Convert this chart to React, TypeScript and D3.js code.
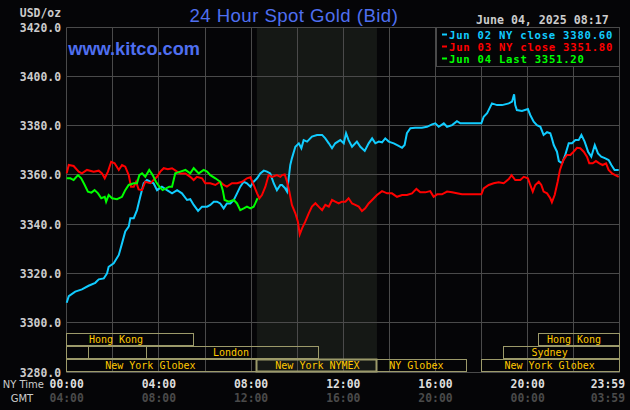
import React from 'react';
import * as d3 from 'd3';

// ---------- data ----------
const Y_TICKS = [3280, 3300, 3320, 3340, 3360, 3380, 3400, 3420];
const X_GRID_HOURS = [0, 2, 4, 6, 8, 10, 12, 14, 16, 18, 20, 22, 24];
const X_LABEL_HOURS = [0, 4, 8, 12, 16, 20, 23.98];
const NY_LABELS = ['00:00', '04:00', '08:00', '12:00', '16:00', '20:00', '23:59'];
const GMT_LABELS = ['04:00', '08:00', '12:00', '16:00', '20:00', '00:00', '03:59'];

const LEGEND_LABELS = ['Jun 02 NY close 3380.60', 'Jun 03 NY close 3351.80', 'Jun 04 Last 3351.20'];

// [hour (NY time), price]
const jun02: [number, number][] = [
  [0, 3308.1], [0.09, 3310.8], [0.37, 3312.6], [0.66, 3313.5], [0.95, 3315.0], [1.24, 3316.2], [1.39, 3317.6],
  [1.61, 3318.0], [1.75, 3320.0], [1.82, 3322.7], [2.04, 3324.1], [2.26, 3327.5], [2.4, 3332.2], [2.54, 3337.0],
  [2.69, 3339.0], [2.76, 3342.4], [2.91, 3342.4], [3.05, 3345.7], [3.19, 3351.1], [3.34, 3356.6], [3.48, 3357.9],
  [3.63, 3357.2], [3.77, 3356.6], [3.92, 3353.8], [4.13, 3355.2], [4.35, 3353.8], [4.57, 3352.5], [4.79, 3353.8],
  [5.0, 3352.5], [5.22, 3349.8], [5.36, 3350.1], [5.51, 3347.8], [5.7, 3345.4], [5.87, 3347.1], [6.09, 3347.1],
  [6.23, 3347.8], [6.38, 3349.1], [6.52, 3349.1], [6.66, 3348.4], [6.81, 3346.4], [6.95, 3348.4], [7.1, 3348.4],
  [7.25, 3349.8], [7.39, 3352.5], [7.53, 3355.2], [7.68, 3357.2], [7.82, 3356.6], [7.97, 3355.2], [8.11, 3357.2],
  [8.26, 3358.6], [8.4, 3360.6], [8.55, 3361.7], [8.69, 3361.3], [8.83, 3360.6], [8.98, 3356.6], [9.12, 3353.8],
  [9.27, 3355.9], [9.34, 3355.9], [9.48, 3354.5], [9.56, 3353.2], [9.63, 3358.6], [9.7, 3364.0], [9.77, 3366.7],
  [9.92, 3371.4], [10.07, 3372.8], [10.18, 3370.8], [10.28, 3374.1], [10.43, 3373.5], [10.64, 3375.5],
  [10.86, 3376.2], [11.08, 3376.2], [11.22, 3374.8], [11.37, 3372.8], [11.51, 3370.8], [11.65, 3372.8],
  [11.87, 3374.1], [12.02, 3372.8], [12.12, 3376.9], [12.23, 3374.1], [12.38, 3371.4], [12.59, 3373.5],
  [12.74, 3371.4], [12.93, 3369.7], [13.1, 3372.8], [13.25, 3374.8], [13.39, 3372.8], [13.54, 3373.5],
  [13.68, 3373.2], [13.82, 3374.8], [13.97, 3373.5], [14.19, 3372.8], [14.4, 3371.8], [14.55, 3371.0],
  [14.66, 3372.1], [14.76, 3376.9], [14.91, 3378.9], [15.12, 3379.1], [15.41, 3379.1], [15.63, 3379.5],
  [15.85, 3380.5], [15.99, 3380.9], [16.14, 3379.5], [16.36, 3380.9], [16.5, 3379.5], [16.72, 3380.2],
  [16.93, 3381.8], [17.08, 3380.9], [17.99, 3380.9], [18.09, 3383.6], [18.24, 3385.0], [18.45, 3389.0],
  [18.67, 3388.3], [18.89, 3388.3], [19.18, 3389.0], [19.32, 3389.7], [19.41, 3392.7], [19.46, 3388.3],
  [19.53, 3386.3], [19.75, 3385.9], [20.01, 3386.7], [20.11, 3384.3], [20.26, 3381.6], [20.4, 3380.2],
  [20.55, 3379.5], [20.69, 3376.2], [20.84, 3377.3], [20.98, 3376.9], [21.05, 3374.8], [21.13, 3372.1],
  [21.27, 3369.4], [21.35, 3365.6], [21.49, 3364.7], [21.63, 3368.1], [21.78, 3372.8], [21.92, 3372.8],
  [22.07, 3374.1], [22.21, 3374.1], [22.33, 3376.2], [22.47, 3373.5], [22.62, 3369.4], [22.76, 3367.4],
  [22.91, 3372.1], [23.05, 3368.7], [23.19, 3367.4], [23.37, 3366.7], [23.51, 3366.0], [23.63, 3364.0],
  [23.77, 3362.0], [23.95, 3362.0],
];

const jun03: [number, number][] = [
  [0, 3360.6], [0.09, 3364.0], [0.3, 3363.6], [0.52, 3361.3], [0.66, 3360.6], [0.88, 3362.0], [1.17, 3361.3],
  [1.39, 3361.7], [1.53, 3360.6], [1.65, 3358.6], [1.79, 3361.3], [1.93, 3365.3], [2.08, 3364.7], [2.26, 3362.0],
  [2.4, 3364.0], [2.54, 3363.3], [2.69, 3359.9], [2.79, 3355.2], [2.91, 3355.2], [3.01, 3357.2], [3.12, 3354.1],
  [3.27, 3353.8], [3.41, 3357.2], [3.63, 3356.6], [3.77, 3357.9], [3.92, 3359.2], [4.06, 3361.3], [4.21, 3362.7],
  [4.39, 3362.3], [4.57, 3362.7], [4.79, 3361.3], [4.93, 3360.6], [5.15, 3360.6], [5.36, 3359.2], [5.51, 3357.9],
  [5.65, 3359.2], [5.87, 3358.6], [6.01, 3356.6], [6.23, 3356.6], [6.45, 3355.9], [6.66, 3357.2], [6.81, 3355.9],
  [6.95, 3355.2], [7.17, 3356.6], [7.39, 3356.6], [7.61, 3357.2], [7.82, 3358.6], [7.97, 3359.0], [8.11, 3355.9],
  [8.26, 3352.5], [8.36, 3350.5], [8.47, 3351.8], [8.62, 3355.2], [8.76, 3359.9], [8.91, 3359.2], [9.12, 3359.9],
  [9.27, 3359.2], [9.34, 3359.9], [9.46, 3360.2], [9.56, 3357.2], [9.66, 3353.2], [9.77, 3347.8], [9.92, 3344.4],
  [10.03, 3341.0], [10.11, 3335.9], [10.21, 3338.3], [10.35, 3341.0], [10.5, 3344.4], [10.64, 3347.1],
  [10.79, 3348.5], [10.93, 3347.1], [11.08, 3345.7], [11.22, 3347.8], [11.37, 3347.1], [11.51, 3349.8],
  [11.65, 3349.1], [11.8, 3348.4], [11.94, 3349.1], [12.09, 3349.1], [12.23, 3350.5], [12.38, 3348.4],
  [12.52, 3347.8], [12.67, 3347.1], [12.81, 3345.3], [12.95, 3346.4], [13.1, 3348.4], [13.25, 3349.8],
  [13.46, 3351.8], [13.68, 3353.4], [13.9, 3352.5], [14.11, 3352.5], [14.33, 3351.1], [14.55, 3351.8],
  [14.76, 3351.8], [14.98, 3352.5], [15.17, 3354.3], [15.34, 3352.9], [15.56, 3352.9], [15.77, 3353.4],
  [15.92, 3351.1], [16.07, 3352.1], [16.28, 3352.1], [16.5, 3353.2], [16.72, 3352.9], [16.93, 3352.5],
  [17.15, 3352.1], [17.99, 3352.1], [18.09, 3354.5], [18.31, 3355.9], [18.52, 3356.6], [18.74, 3357.0],
  [18.96, 3356.6], [19.18, 3358.3], [19.3, 3359.9], [19.46, 3357.9], [19.68, 3357.9], [19.83, 3359.2],
  [20.01, 3358.6], [20.11, 3355.9], [20.22, 3353.2], [20.33, 3355.9], [20.48, 3357.2], [20.59, 3355.9],
  [20.69, 3353.2], [20.84, 3352.5], [20.98, 3350.5], [21.05, 3348.9], [21.17, 3351.8], [21.3, 3357.2],
  [21.4, 3362.0], [21.55, 3366.0], [21.7, 3368.1], [21.85, 3368.1], [21.99, 3369.4], [22.14, 3371.0],
  [22.28, 3370.8], [22.43, 3369.4], [22.57, 3367.4], [22.67, 3364.7], [22.82, 3364.7], [22.96, 3365.6],
  [23.11, 3364.7], [23.25, 3364.0], [23.4, 3364.7], [23.51, 3362.0], [23.66, 3360.6], [23.8, 3359.9],
  [23.95, 3359.2],
];

const jun04: [number, number][] = [
  [0, 3358.6], [0.16, 3358.6], [0.3, 3357.9], [0.49, 3359.9], [0.63, 3358.6], [0.78, 3355.9], [0.92, 3353.2],
  [1.07, 3352.8], [1.21, 3353.8], [1.36, 3352.5], [1.5, 3350.5], [1.65, 3351.1], [1.71, 3349.1], [1.82, 3351.8],
  [1.97, 3350.5], [2.18, 3350.1], [2.4, 3351.1], [2.54, 3353.8], [2.69, 3355.9], [2.91, 3356.6], [3.05, 3356.6],
  [3.15, 3359.9], [3.27, 3360.6], [3.41, 3359.2], [3.58, 3362.0], [3.73, 3359.9], [3.87, 3357.2], [4.02, 3355.2],
  [4.16, 3353.8], [4.31, 3354.5], [4.45, 3355.2], [4.57, 3355.2], [4.71, 3360.6], [4.93, 3361.3], [5.15, 3362.0],
  [5.36, 3360.6], [5.51, 3362.7], [5.73, 3360.6], [5.94, 3362.0], [6.09, 3361.3], [6.23, 3359.9], [6.45, 3358.6],
  [6.66, 3357.2], [6.77, 3353.8], [6.85, 3349.8], [7.03, 3349.1], [7.25, 3349.8], [7.39, 3348.4], [7.53, 3345.7],
  [7.68, 3346.4], [7.82, 3347.1], [7.97, 3346.4], [8.11, 3347.1], [8.18, 3348.4], [8.28, 3350.5],
];

const SERIES = [jun02, jun03, jun04];
const SERIES_COLORS = ['#11ccff', '#ff0000', '#00ff00'];

// trading sessions: row 0 = top
const SESSIONS = [
  { name: 'Hong Kong', row: 0, start: 0, end: 5.5, labelAt: 2.14 },
  { name: '', row: 1, start: 0, end: 0.94 },
  { name: '', row: 1, start: 0.94, end: 3.46 },
  { name: 'London', row: 1, start: 3.46, end: 10.92, labelAt: 7.13 },
  { name: 'New York Globex', row: 2, start: 0, end: 8.25, labelAt: 3.63 },
  { name: 'New York NYMEX', row: 2, start: 8.25, end: 13.46, labelAt: 10.88, strong: true },
  { name: 'NY Globex', row: 2, start: 13.46, end: 17.33, labelAt: 15.17 },
  { name: 'New York Globex', row: 2, start: 17.99, end: 24, labelAt: 20.95 },
  { name: 'Sydney', row: 1, start: 18.94, end: 24, labelAt: 20.95 },
  { name: 'Hong Kong', row: 0, start: 20.46, end: 24, labelAt: 22.01 },
];
const SHADE_START = 8.25;
const SHADE_END = 13.46;

// ---------- chart ----------
const W = 630;
const H = 410;
const BG = '#050507';
const GRID = '#4a4a4a';
const MONO = '"DejaVu Sans Mono", monospace';

export default function App() {
  const x = d3.scaleLinear().domain([0, 24]).range([66.7, 619.9]);
  const y = d3.scaleLinear().domain([3280, 3420]).range([372, 27]);
  const snap = (v: number) => Math.floor(v) + 0.5;
  const line = d3
    .line<[number, number]>()
    .x((d) => x(d[0]))
    .y((d) => y(d[1]));

  const left = snap(x(0));
  const right = snap(x(24));
  const top = snap(y(3420));
  const bottom = snap(y(3280));

  return (
    <svg
      width={W}
      height={H}
      style={{ position: 'absolute', left: 0, top: 0, display: 'block' }}
    >
      <rect x={0} y={0} width={W} height={H} fill={BG} />
      {/* shaded NYMEX period */}
      <rect
        x={x(SHADE_START)}
        y={top}
        width={x(SHADE_END) - x(SHADE_START)}
        height={bottom - top}
        fill="#151815"
      />
      {/* grid */}
      {X_GRID_HOURS.map((h) => (
        <line key={'gx' + h} x1={snap(x(h))} x2={snap(x(h))} y1={top} y2={bottom} stroke={GRID} strokeWidth={1} />
      ))}
      {Y_TICKS.map((v) => (
        <line key={'gy' + v} x1={left} x2={right} y1={snap(y(v))} y2={snap(y(v))} stroke={GRID} strokeWidth={1} />
      ))}

      {/* y labels */}
      {Y_TICKS.map((v) => (
        <text
          key={'yl' + v}
          x={61}
          y={y(v) + 4.5}
          textAnchor="end"
          fontFamily={MONO}
          fontWeight="bold"
          fontSize={11.4}
          fill="#cccccc"
        >
          {v.toFixed(1)}
        </text>
      ))}
      <text x={61} y={17.3} textAnchor="end" fontFamily={MONO} fontWeight="bold" fontSize={11.4} fill="#cccccc">
        USD/oz
      </text>

      {/* sessions */}
      {SESSIONS.map((s, i) => {
        const rt = 333.5 + s.row * 13;
        const x0 = snap(x(s.start));
        const x1 = snap(x(s.end));
        return (
          <g key={'s' + i}>
            <rect
              x={x0}
              y={rt}
              width={x1 - x0}
              height={12}
              fill="none"
              stroke="#9c9a6a"
              strokeWidth={s.strong ? 2 : 1}
            />
            {s.name && (
              <text
                x={x(s.labelAt as number)}
                y={rt + 9.3}
                textAnchor="middle"
                fontFamily={MONO}
                fontSize={10}
                fill="#ffc800"
              >
                {s.name}
              </text>
            )}
          </g>
        );
      })}

      {/* series */}
      {SERIES.map((s, i) => (
        <path
          key={'p' + i}
          d={line(s) || ''}
          fill="none"
          stroke={SERIES_COLORS[i]}
          strokeWidth={2}
          strokeLinejoin="miter"
        />
      ))}

      {/* legend */}
      <rect x={436.5} y={top} width={right - 436.5} height={66.5 - top} fill={BG} stroke={GRID} strokeWidth={1} />
      {LEGEND_LABELS.map((t, i) => (
        <g key={'lg' + i}>
          <rect x={442} y={34.5 + i * 12 - 1} width={5} height={2} fill={SERIES_COLORS[i]} />
          <text
            x={449}
            y={38.5 + i * 12}
            fontFamily={MONO}
            fontWeight="bold"
            fontSize={10.6}
            textLength={t.length * 7.1}
            lengthAdjust="spacing"
            fill={SERIES_COLORS[i]}
          >
            {t}
          </text>
        </g>
      ))}

      {/* title etc */}
      <text
        x={189.5}
        y={21.8}
        fontFamily="'Liberation Sans', Arial, sans-serif"
        fontSize={18.6}
        letterSpacing={0.45}
        fill="#4f6ff0"
      >
        24 Hour Spot Gold (Bid)
      </text>
      <text
        x={68.3}
        y={55}
        fontFamily="'Liberation Sans', Arial, sans-serif"
        fontWeight="bold"
        fontSize={18.2}
        fill="#4f6ff0"
      >
        www.kitco.com
      </text>
      <text x={476} y={24.2} fontFamily={MONO} fontWeight="bold" fontSize={11.6} fill="#cccccc">
        June 04, 2025 08:17
      </text>

      {/* x labels */}
      <text x={2.7} y={387.5} fontFamily="'DejaVu Sans', sans-serif" fontSize={10} fill="#cccccc">
        NY Time
      </text>
      <text x={10.7} y={401.5} fontFamily="'DejaVu Sans', sans-serif" fontSize={10} fill="#cccccc">
        GMT
      </text>
      {X_LABEL_HOURS.map((h, i) => {
        const last = i === X_LABEL_HOURS.length - 1;
        const px = last ? 625 : x(h);
        return (
          <g key={'xl' + i}>
            <text
              x={px}
              y={387.5}
              textAnchor={last ? 'end' : 'middle'}
              fontFamily={MONO}
              fontWeight="bold"
              fontSize={11.4}
              fill="#dddddd"
            >
              {NY_LABELS[i]}
            </text>
            <text
              x={px}
              y={401.7}
              textAnchor={last ? 'end' : 'middle'}
              fontFamily={MONO}
              fontWeight="bold"
              fontSize={11.4}
              fill="#4a4a4a"
            >
              {GMT_LABELS[i]}
            </text>
          </g>
        );
      })}
    </svg>
  );
}
